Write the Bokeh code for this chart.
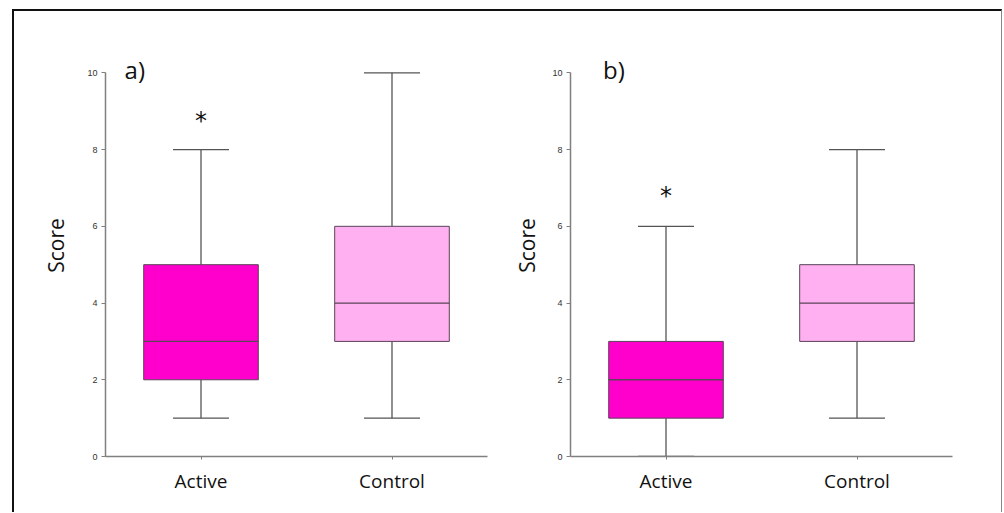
from bokeh.plotting import figure
from bokeh.layouts import row
from bokeh.models import (ColumnDataSource, Whisker, TeeHead, Label, FixedTicker,
                          Range1d, FactorRange)
from bokeh.transform import dodge
from bokeh.embed import file_html
from bokeh.resources import INLINE

# ---------------- data ----------------
groups = ["Active", "Control"]
box_colors = ["#FF00CC", "#FFB0F0"]

a_min = [1, 1]
a_q1 = [2, 3]
a_med = [3, 4]
a_q3 = [5, 6]
a_max = [8, 10]

b_min = [0, 1]
b_q1 = [1, 3]
b_med = [2, 4]
b_q3 = [3, 5]
b_max = [6, 8]

sig_groups = ["Active"]
sig_a_y = [8.75]
sig_b_y = [6.8]

y_ticks = [0, 2, 4, 6, 8, 10]
panel_names = ["a)", "b)"]
panel_name_x = [0.1, 0.17]

OUTLINE = "#5a4458"
AXIS = "#808080"


def make_panel(name, name_x, mins, q1s, meds, q3s, maxs, sig_y,
               width, left, right, label_standoff):
    p = figure(x_range=FactorRange(*groups), y_range=Range1d(0, 11),
               width=width, height=501, output_backend="svg",
               toolbar_location=None, min_border_left=left,
               min_border_right=right, min_border_top=23,
               min_border_bottom=56)
    p.outline_line_color = None
    p.xgrid.visible = False
    p.ygrid.visible = False

    src = ColumnDataSource(dict(group=groups, lo=mins, q1=q1s, med=meds,
                                q3=q3s, hi=maxs, color=box_colors))

    wcol = "#555555"
    p.add_layout(Whisker(source=src, base="group", lower="q3", upper="hi",
                         dimension="height", line_color=wcol, line_width=1.3,
                         upper_head=TeeHead(size=56, line_color=wcol, line_width=1.3),
                         lower_head=None))
    p.add_layout(Whisker(source=src, base="group", lower="lo", upper="q1",
                         dimension="height", line_color=wcol, line_width=1.3,
                         lower_head=TeeHead(size=56, line_color=wcol, line_width=1.3),
                         upper_head=None))

    p.vbar(x="group", bottom="q1", top="q3", width=0.6, source=src,
           fill_color="color", line_color=OUTLINE, line_width=1)
    p.segment(x0=dodge("group", -0.3, range=p.x_range),
              x1=dodge("group", 0.3, range=p.x_range),
              y0="med", y1="med", source=src, line_color=OUTLINE, line_width=1.3)

    ssrc = ColumnDataSource(dict(group=sig_groups, y=sig_y, t=["*"] * len(sig_groups)))
    p.text(x="group", y="y", text="t", source=ssrc, text_align="center",
           text_baseline="middle", text_font_size="24px", text_color="#111111",
           text_font={"value": "DejaVu Sans"})

    p.add_layout(Label(x=name_x, y=10.1, text=name, text_font_size="24px",
                       text_font="Open Sans", text_baseline="middle",
                       text_color="#111111"))

    # y axis
    ya = p.yaxis[0]
    ya.bounds = (0, 10)
    ya.ticker = FixedTicker(ticks=y_ticks)
    ya.minor_tick_line_color = None
    ya.axis_line_color = AXIS
    ya.axis_line_width = 1.5
    ya.major_tick_line_color = AXIS
    ya.major_tick_in = 0
    ya.major_tick_out = 4
    ya.major_label_text_font = "Liberation Sans"
    ya.major_label_text_font_size = "9px"
    ya.major_label_text_color = "#333333"
    ya.major_label_standoff = 4
    ya.axis_label = "Score"
    ya.axis_label_text_font = "Open Sans"
    ya.axis_label_text_font_style = "normal"
    ya.axis_label_text_font_size = "21px"
    ya.axis_label_text_color = "#111111"
    ya.axis_label_standoff = label_standoff

    xa = p.xaxis[0]
    xa.axis_line_color = AXIS
    xa.axis_line_width = 1.5
    xa.major_tick_line_color = AXIS
    xa.major_tick_in = 0
    xa.major_tick_out = 3
    xa.minor_tick_line_color = None
    xa.major_label_text_font = "Open Sans"
    xa.major_label_text_font_size = "19px"
    xa.major_label_text_color = "#111111"
    xa.major_label_standoff = 8
    return p


pa = make_panel(panel_names[0], panel_name_x[0], a_min, a_q1, a_med, a_q3, a_max,
                sig_a_y, width=496, left=91, right=23, label_standoff=14)
pb = make_panel(panel_names[1], panel_name_x[1], b_min, b_q1, b_med, b_q3, b_max,
                sig_b_y, width=491, left=58, right=49, label_standoff=8)

layout = row(pa, pb, margin=(9, 0, 0, 12),
             styles={"border-top": "2px solid #111111",
                     "border-left": "2px solid #111111",
                     "border-right": "1px solid #888888"})

open("out.html", "w").write(file_html(layout, INLINE))
